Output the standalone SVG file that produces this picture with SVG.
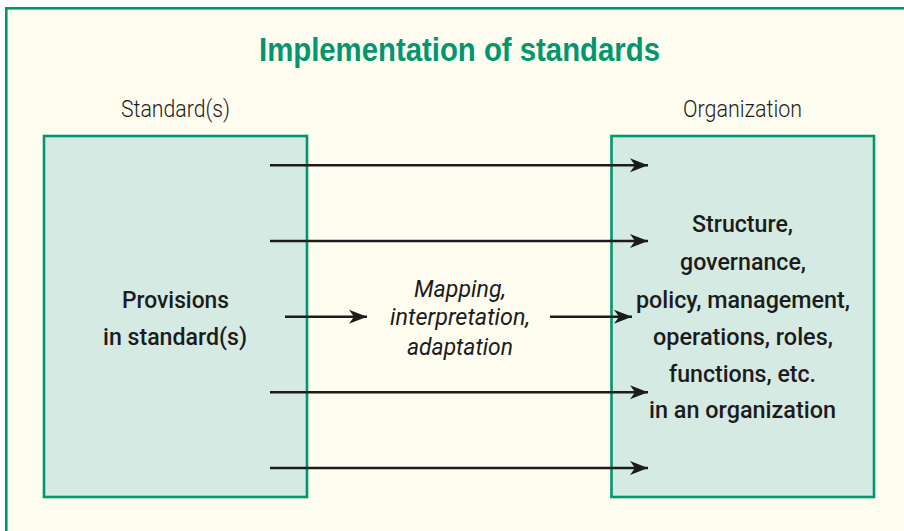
<svg xmlns="http://www.w3.org/2000/svg" width="904" height="531" viewBox="0 0 904 531">
<style>
.frame{fill:#FFFDF0;stroke:#00976E;stroke-width:2.6}
.box{fill:#D5EAE2;stroke:#00976E;stroke-width:2.6}
.title{font-family:"Liberation Sans",Arial,sans-serif;font-weight:bold;font-size:34px;fill:#00976E}
.head{font-family:Roboto,"Liberation Sans",sans-serif;font-weight:300;font-size:24.5px;fill:#1c1c1c}
.lbl{font-family:Roboto,"Liberation Sans",sans-serif;font-weight:500;font-size:24px;fill:#1c1c1c}
.it{font-family:Roboto,"Liberation Sans",sans-serif;font-style:italic;font-size:24.5px;fill:#1c1c1c}
.arr{stroke:#1c1c1c;stroke-width:2.6;fill:none;marker-end:url(#ah)}
</style>
<defs>
<marker id="ah" markerUnits="userSpaceOnUse" markerWidth="19" markerHeight="15" refX="18" refY="7.5" orient="auto" viewBox="0 0 19 15">
<path d="M0,0.5 L18,7.5 L0,14.5 L5,7.5 Z" fill="#1c1c1c"/>
</marker>
</defs>
<rect x="0" y="0" width="904" height="531" fill="#FFFFFF"/>
<rect class="frame" x="6.3" y="8.3" width="1000" height="600"/>
<text class="title" x="459.5" y="61" text-anchor="middle" textLength="401" lengthAdjust="spacingAndGlyphs">Implementation of standards</text>
<g id="standards">
<text class="head" x="175.5" y="117" text-anchor="middle" textLength="109" lengthAdjust="spacingAndGlyphs">Standard(s)</text>
<rect class="box" x="44" y="136" width="263" height="361"/>
<text class="lbl" x="175.5" y="308" text-anchor="middle" textLength="107" lengthAdjust="spacingAndGlyphs">Provisions</text>
<text class="lbl" x="175" y="345" text-anchor="middle" textLength="144" lengthAdjust="spacingAndGlyphs">in standard(s)</text>
</g>
<g id="organization">
<text class="head" x="742.5" y="117" text-anchor="middle" textLength="119" lengthAdjust="spacingAndGlyphs">Organization</text>
<rect class="box" x="611.5" y="136" width="262.5" height="361"/>
<text class="lbl" x="742.5" y="232" text-anchor="middle" textLength="101" lengthAdjust="spacingAndGlyphs">Structure,</text>
<text class="lbl" x="743" y="270" text-anchor="middle" textLength="126" lengthAdjust="spacingAndGlyphs">governance,</text>
<text class="lbl" x="743" y="307.5" text-anchor="middle" textLength="214" lengthAdjust="spacingAndGlyphs">policy, management,</text>
<text class="lbl" x="743" y="345" text-anchor="middle" textLength="180" lengthAdjust="spacingAndGlyphs">operations, roles,</text>
<text class="lbl" x="742.5" y="382" text-anchor="middle" textLength="147" lengthAdjust="spacingAndGlyphs">functions, etc.</text>
<text class="lbl" x="742.5" y="418" text-anchor="middle" textLength="187" lengthAdjust="spacingAndGlyphs">in an organization</text>
</g>
<g id="mapping">
<text class="it" x="460" y="297" text-anchor="middle" textLength="92" lengthAdjust="spacingAndGlyphs">Mapping,</text>
<text class="it" x="460" y="325" text-anchor="middle" textLength="140" lengthAdjust="spacingAndGlyphs">interpretation,</text>
<text class="it" x="460" y="355" text-anchor="middle" textLength="106" lengthAdjust="spacingAndGlyphs">adaptation</text>
</g>
<g id="connectors">
<line class="arr" x1="270" y1="165.3" x2="648" y2="165.3"/>
<line class="arr" x1="270" y1="241" x2="648" y2="241"/>
<line class="arr" x1="285" y1="316.7" x2="367" y2="316.7"/>
<line class="arr" x1="550" y1="316.7" x2="632" y2="316.7"/>
<line class="arr" x1="270" y1="392.3" x2="648" y2="392.3"/>
<line class="arr" x1="270" y1="468" x2="648" y2="468"/>
</g>
</svg>
